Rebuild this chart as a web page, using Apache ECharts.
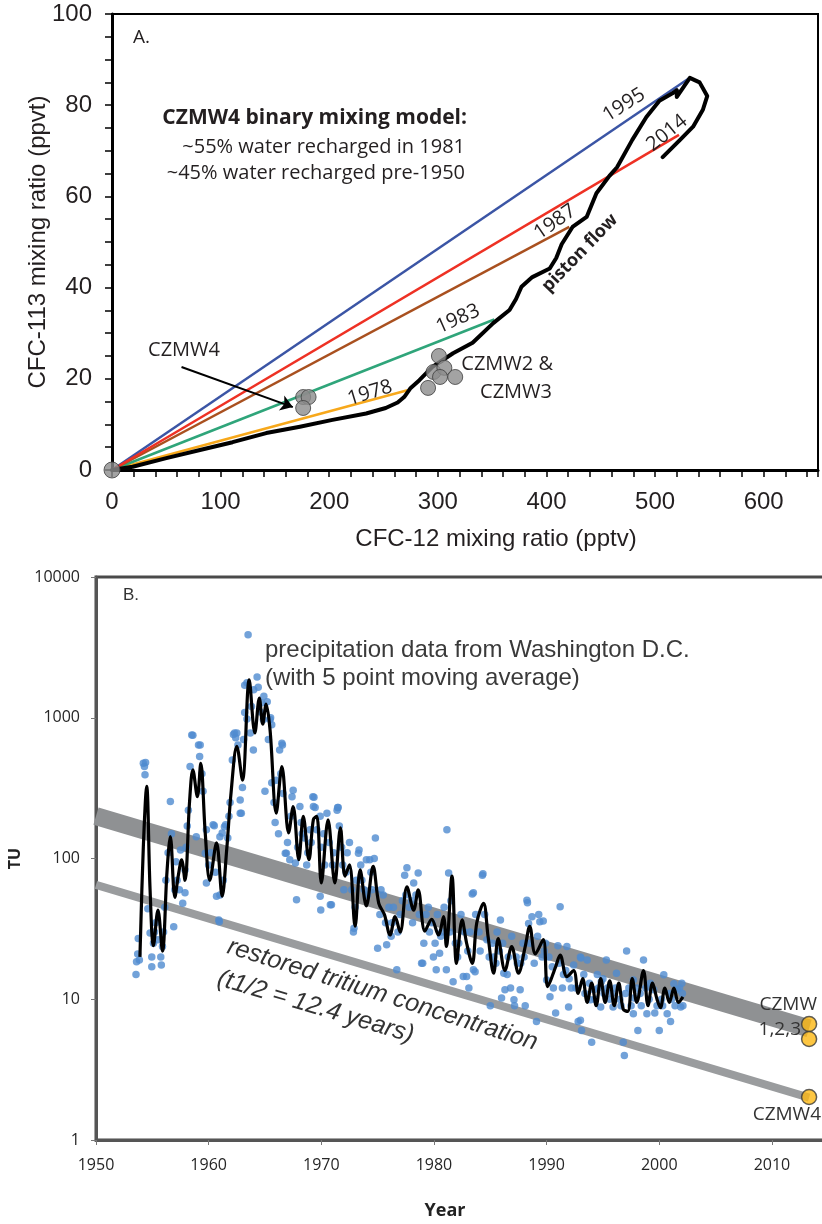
<!DOCTYPE html>
<html>
<head>
<meta charset="utf-8">
<script src="https://cdn.jsdelivr.net/npm/echarts@6/dist/echarts.min.js"></script>
<style>
  html, body { margin: 0; padding: 0; background: #fff; }
  #chart { width: 822px; height: 1224px; }
</style>
</head>
<body>
<div id="chart"></div>
<script>
// ---- panel A: CFC-113 vs CFC-12 ----
const mixYears = ['1978', '1983', '1987', '1995', '2014'];
const mixEndCfc12 = [272, 352, 421, 532, 522];
const mixEndCfc113 = [17.5, 33, 53.3, 86, 73.5];
const mixColors = ['#f7a81b', '#2fa57a', '#a9501f', '#3b55a5', '#ee3124'];

const pistonFlow = [
  [0, 0], [19, 0.7], [50, 2.6], [81, 4.4], [111, 6.1], [142, 8.1], [173, 9.5],
  [203, 11], [234, 12.4], [252, 13.6], [263, 14.8], [269, 16.0], [275, 18.0], [283, 19.7],
  [295, 22.6], [314, 25.6], [332, 27.9], [351, 32.2], [366, 35.1], [372, 37.5], [377, 40.2],
  [387, 42.3], [403, 44.2], [409, 46.5], [414, 49.5], [424, 53.3], [437, 55.5], [446, 60.7],
  [458, 64.5], [465, 66.4], [479, 72.4], [492, 77.4], [504, 81], [516, 82.6],
  [520, 83.3], [520, 81.8], [532, 86], [541, 85], [548, 82], [544, 79],
  [535, 75.3], [523, 72.4], [507, 68.6]
];
const czmw4A = [[176, 16], [181, 16], [176, 13.6]];
const czmw23A = [[301, 25], [296, 21.5], [306, 22.4], [302, 20.4], [316, 20.4], [291, 18]];
const originA = [[0, 0]];
const arrowA = [[64, 22.6], [166.5, 13.8]];

// ---- panel B: tritium in precipitation ----
const decayBand = [[1950, 200], [2013.3, 6.2]];
const restoredLine = [[1950, 65], [2013.3, 2.0]];
const wells123 = [[2013.3, 6.67], [2013.3, 5.22]];
const well4 = [[2013.3, 2.02]];

const movingAvg = [
  [1953.9, 20], [1954.2, 120], [1954.5, 325], [1954.8, 60], [1955.1, 24], [1955.5, 43],
  [1955.9, 22], [1956.3, 80], [1956.6, 143], [1957.0, 53], [1957.3, 75], [1957.6, 98],
  [1957.9, 70], [1958.3, 250], [1958.6, 426], [1959.0, 275], [1959.3, 475], [1959.7, 150],
  [1960.1, 70], [1960.7, 129], [1961.2, 54], [1961.6, 115], [1962.0, 300], [1962.5, 627],
  [1963.0, 361], [1963.6, 1860], [1964.1, 780], [1964.5, 1380], [1964.8, 900], [1965.1, 1250],
  [1965.45, 820], [1966.0, 210], [1966.5, 450], [1967.1, 152], [1967.5, 234], [1968.0, 98],
  [1968.4, 199], [1968.9, 98], [1969.3, 190], [1969.6, 199], [1970.0, 67], [1970.6, 188],
  [1971.2, 67], [1971.7, 165], [1972.1, 75], [1972.5, 90], [1973.0, 33], [1973.45, 83],
  [1974.0, 46], [1974.6, 88], [1975.1, 48], [1975.6, 40], [1976.1, 28.6], [1976.55, 38.6],
  [1977.0, 30], [1977.6, 63], [1978.2, 43], [1978.6, 60], [1979.2, 30.5], [1979.8, 37],
  [1980.4, 28.6], [1980.85, 38.6], [1981.1, 23.7], [1981.6, 75], [1982.0, 18], [1982.5, 36.6],
  [1982.9, 25], [1983.4, 18], [1983.8, 35], [1984.4, 48], [1984.8, 28], [1985.3, 15.3],
  [1985.7, 27], [1986.3, 16], [1986.9, 23.7], [1987.5, 15.3], [1988.1, 23.7], [1988.5, 33],
  [1989.0, 21], [1989.7, 26.5], [1990.1, 12.3], [1990.8, 17], [1991.2, 20.6], [1991.8, 14.5],
  [1992.4, 16], [1992.8, 11], [1993.2, 14], [1993.6, 9.5], [1994.0, 13], [1994.4, 9],
  [1994.8, 14], [1995.2, 9.5], [1995.6, 13.5], [1996.0, 9], [1996.4, 13], [1996.8, 8.5],
  [1997.2, 8.2], [1997.6, 14], [1998.0, 9.5], [1998.6, 16], [1999.0, 9], [1999.4, 13],
  [1999.8, 10], [2000.1, 8.7], [2000.5, 12], [2000.9, 9.5], [2001.3, 12], [2001.7, 9.5],
  [2002.1, 10.4]
];

const precip = [
  [1953.55, 15], [1953.6, 18.5], [1953.75, 27], [1953.7, 21], [1953.85, 19],
  [1954.2, 475], [1954.35, 393], [1954.3, 450], [1954.4, 480],
  [1954.6, 44], [1954.8, 29.6], [1954.95, 20], [1954.95, 17], [1955.1, 25], [1955.3, 35],
  [1955.2, 30], [1955.5, 26.5], [1955.75, 20], [1955.8, 17.5], [1955.9, 23.7], [1956.0, 30],
  [1956.1, 45], [1956.2, 70], [1956.4, 110], [1956.6, 254], [1956.7, 150], [1956.9, 32.8],
  [1957.0, 60], [1957.1, 95], [1957.2, 70], [1957.4, 60], [1957.5, 115], [1957.7, 48],
  [1957.9, 57], [1957.9, 83], [1958.0, 120], [1958.1, 170],
  [1958.2, 220], [1958.35, 450], [1958.5, 755], [1958.6, 750], [1958.9, 143], [1959.1, 640],
  [1959.2, 530], [1959.25, 640], [1959.4, 400], [1959.5, 300], [1959.7, 109], [1959.8, 67],
  [1959.8, 160], [1960.0, 90], [1960.2, 110], [1960.4, 174], [1960.5, 171], [1960.6, 80],
  [1960.7, 54], [1960.9, 36.6], [1960.95, 35.6], [1961.0, 55], [1961.0, 143], [1961.2, 152],
  [1961.4, 168], [1961.5, 174], [1961.3, 70], [1961.7, 140], [1961.8, 200], [1961.9, 250],
  [1962.1, 500], [1962.2, 760], [1962.3, 780], [1962.4, 720], [1962.5, 780], [1962.6, 640],
  [1962.8, 260], [1962.8, 210], [1962.9, 210], [1963.0, 320], [1963.1, 700], [1963.2, 1090],
  [1963.2, 1700], [1963.4, 980], [1963.4, 1770], [1963.5, 3880], [1963.7, 780], [1963.8, 1200],
  [1963.97, 590], [1964.0, 1580], [1964.3, 1950], [1964.4, 1650], [1964.6, 1100], [1964.7, 1280],
  [1964.86, 970], [1964.9, 1420], [1965.0, 300], [1965.2, 1300], [1965.3, 700], [1965.45, 970],
  [1965.5, 1000], [1965.6, 890], [1965.6, 345], [1965.8, 250], [1965.9, 180], [1966.0, 360],
  [1966.2, 150], [1966.3, 590], [1966.4, 400], [1966.5, 660], [1966.55, 640], [1966.6, 290],
  [1966.8, 109], [1966.9, 109], [1967.0, 130], [1967.2, 98], [1967.3, 200], [1967.4, 275],
  [1967.5, 305], [1967.7, 93], [1967.8, 51], [1967.9, 120], [1968.1, 234], [1968.2, 180],
  [1968.3, 150], [1968.5, 140], [1968.7, 90], [1968.8, 110], [1969.0, 160], [1969.1, 130],
  [1969.3, 234], [1969.35, 272], [1969.25, 275], [1969.45, 230], [1969.6, 160], [1969.9, 200],
  [1969.9, 54], [1969.95, 43], [1970.0, 120], [1970.2, 150], [1970.3, 90], [1970.5, 210],
  [1970.7, 130], [1970.8, 47], [1970.9, 47], [1971.0, 90], [1971.1, 110], [1971.4, 220],
  [1971.45, 230], [1971.5, 230], [1971.6, 170], [1971.8, 120], [1971.9, 90], [1972.0, 60],
  [1972.2, 80], [1972.3, 110], [1972.5, 130], [1972.7, 60],
  [1972.85, 30], [1972.9, 32], [1973.0, 45], [1973.1, 70], [1973.3, 109], [1973.35, 115],
  [1973.5, 90], [1973.6, 70], [1973.8, 60], [1974.0, 98], [1974.1, 55], [1974.3, 98],
  [1974.4, 80], [1974.5, 60], [1974.7, 100], [1974.8, 140], [1975.0, 23], [1975.2, 40],
  [1975.3, 60], [1975.5, 55], [1975.7, 35], [1975.8, 24.4], [1976.0, 45], [1976.2, 28],
  [1976.3, 35], [1976.4, 45], [1976.7, 16.2], [1976.8, 30], [1977.0, 40], [1977.2, 50],
  [1977.4, 76], [1977.5, 55], [1977.6, 86], [1977.8, 45], [1978.0, 50], [1978.1, 35],
  [1978.2, 67], [1978.4, 55], [1978.6, 79], [1978.7, 40], [1978.9, 18], [1979.0, 18],
  [1979.1, 25], [1979.3, 40], [1979.5, 45], [1979.6, 30], [1979.8, 35], [1979.95, 20],
  [1980.1, 25], [1980.2, 16.2], [1980.3, 40], [1980.5, 21.2], [1980.6, 28], [1980.7, 30],
  [1980.9, 45], [1981.1, 16.2], [1981.15, 160], [1981.3, 79], [1981.4, 30], [1981.5, 50],
  [1981.7, 13.3], [1981.9, 25], [1982.1, 20], [1982.2, 25], [1982.4, 40], [1982.6, 14.5],
  [1982.7, 30], [1982.9, 14.5], [1983.0, 22], [1983.1, 12.0], [1983.2, 30], [1983.4, 56],
  [1983.5, 57], [1983.5, 16.2], [1983.65, 15.7], [1983.7, 40],
  [1984.0, 30], [1984.1, 22], [1984.3, 76], [1984.35, 78], [1984.5, 40], [1984.7, 26.5],
  [1984.9, 20], [1985.0, 9], [1985.2, 25], [1985.3, 20], [1985.5, 18], [1985.6, 30],
  [1985.8, 22], [1985.9, 36.6], [1986.0, 10.2], [1986.1, 25], [1986.2, 15.3], [1986.3, 11.7],
  [1986.5, 15], [1986.6, 20], [1986.8, 12], [1986.9, 28], [1987.1, 9.9], [1987.15, 9.0],
  [1987.3, 20], [1987.4, 18], [1987.65, 11.7], [1987.7, 18], [1987.9, 25], [1988.0, 20],
  [1988.1, 9.0], [1988.25, 50.6], [1988.3, 48.5], [1988.4, 34.5], [1988.5, 25], [1988.7, 38.6],
  [1988.9, 18], [1989.1, 6.95], [1989.2, 28], [1989.3, 40], [1989.4, 35.6], [1989.6, 20],
  [1989.7, 36], [1989.8, 22], [1989.9, 25], [1990.0, 13.7], [1990.2, 20], [1990.3, 10.4],
  [1990.5, 17], [1990.6, 12], [1990.8, 8.0], [1991.0, 24], [1991.1, 18], [1991.2, 45.5],
  [1991.4, 12], [1991.5, 15], [1991.7, 16], [1991.8, 23.7], [1991.95, 8.8], [1992.0, 14],
  [1992.2, 12], [1992.4, 17.5], [1992.6, 12], [1992.8, 6.95], [1993.0, 20], [1993.05, 19.6],
  [1993.0, 7.1], [1993.1, 6.0], [1993.3, 15], [1993.4, 11], [1993.6, 19], [1993.8, 13],
  [1993.9, 9.9], [1994.0, 4.95], [1994.2, 11.7], [1994.3, 10], [1994.5, 15], [1994.6, 12],
  [1994.8, 8.8], [1994.85, 13.3], [1995.0, 14], [1995.1, 11], [1995.3, 19], [1995.4, 12],
  [1995.6, 10], [1995.8, 11], [1995.9, 8.8], [1996.1, 12], [1996.2, 15.3], [1996.5, 10],
  [1996.6, 9], [1996.8, 4.95], [1996.9, 3.98], [1997.0, 11], [1997.1, 22], [1997.3, 12],
  [1997.5, 9], [1997.7, 13.7], [1997.75, 10.2], [1997.7, 7.9], [1998.0, 12], [1998.1, 6.0],
  [1998.3, 11], [1998.4, 9], [1998.6, 19], [1998.8, 12], [1998.9, 7.9], [1999.1, 10],
  [1999.2, 13], [1999.5, 11.7], [1999.6, 8], [1999.8, 9], [2000.0, 6.0], [2000.2, 10],
  [2000.3, 9], [2000.4, 14.9], [2000.7, 7.9], [2000.9, 11], [2001.0, 6.95], [2001.1, 10],
  [2001.3, 12.9], [2001.4, 9], [2001.6, 11.7], [2001.8, 12], [2001.9, 8.8], [2002.0, 13],
  [2002.05, 11], [2002.1, 9]
];

const chart = echarts.init(document.getElementById('chart'));
const deg = Math.PI / 180;
const serif = '"Liberation Sans", Arial, sans-serif';
const myriad = '"Open Sans", "Noto Sans", sans-serif';

function txt(text, x, y, opt) {
  opt = opt || {};
  return {
    type: 'text', x: x, y: y, rotation: (opt.rot || 0) * deg, z: 100,
    style: {
      text: text, font: opt.font, fill: opt.color || '#231f20',
      textAlign: opt.align || 'left', textVerticalAlign: 'middle',
      align: opt.align || 'left', verticalAlign: 'middle'
    }
  };
}

const mixSeries = mixYears.map((yr, i) => ({
  name: yr, type: 'line', xAxisIndex: 0, yAxisIndex: 0,
  data: [[0, 0], [mixEndCfc12[i], mixEndCfc113[i]]],
  showSymbol: false, lineStyle: { color: mixColors[i], width: 2.5 }, z: 2
}));

const plain = v => String(v);

const option = {
  animation: false,
  backgroundColor: '#fff',
  grid: [
    { left: 112, top: 14, width: 706, height: 456, show: true, borderColor: '#000', borderWidth: 2, outerBoundsMode: 'none' },
    { left: 96, top: 577, right: -4, height: 563, show: true, borderColor: '#4a4a4a', borderWidth: 3, outerBoundsMode: 'none' }
  ],
  xAxis: [
    {
      gridIndex: 0, type: 'value', min: 0, max: 650, interval: 100,
      name: 'CFC-12 mixing ratio (pptv)', nameLocation: 'middle', nameGap: 57,
      nameTextStyle: { fontFamily: serif, fontSize: 24, color: '#231f20', padding: [0, 0, 0, 62] },
      axisLine: { lineStyle: { color: '#000', width: 3 } },
      axisTick: { length: 7, lineStyle: { color: '#000', width: 1.5 } },
      minorTick: { show: true, splitNumber: 5, length: 7, lineStyle: { color: '#000', width: 1.5 } },
      axisLabel: { fontFamily: serif, fontSize: 24, color: '#231f20', margin: 20, showMaxLabel: false },
      splitLine: { show: false }
    },
    {
      gridIndex: 1, type: 'value', min: 1950, max: 2014.8, interval: 10,
      name: 'Year', nameLocation: 'middle', nameGap: 62,
      nameTextStyle: { fontFamily: myriad, fontSize: 18, fontWeight: 'bold', color: '#222', padding: [0, 32, 0, 0] },
      axisLine: { lineStyle: { color: '#555', width: 3 } },
      axisTick: { length: 5, lineStyle: { color: '#777', width: 1 } },
      axisLabel: { fontFamily: myriad, fontSize: 16, color: '#262626', margin: 17, showMaxLabel: false, formatter: plain },
      splitLine: { show: false }
    }
  ],
  yAxis: [
    {
      gridIndex: 0, type: 'value', min: 0, max: 100, interval: 20,
      name: 'CFC-113 mixing ratio (ppvt)', nameLocation: 'middle', nameGap: 62, nameRotate: 90,
      nameMoveOverlap: false,
      nameTextStyle: { fontFamily: serif, fontSize: 24, color: '#231f20' },
      axisLine: { lineStyle: { color: '#000', width: 3 } },
      axisTick: { length: 7, lineStyle: { color: '#000', width: 1.5 } },
      minorTick: { show: true, splitNumber: 4, length: 7, lineStyle: { color: '#000', width: 1.5 } },
      axisLabel: { fontFamily: serif, fontSize: 24, color: '#231f20', margin: 20 },
      splitLine: { show: false }
    },
    {
      gridIndex: 1, type: 'log', logBase: 10, min: 1, max: 10000,
      name: 'TU', nameLocation: 'middle', nameGap: 66, nameRotate: 90,
      nameTextStyle: { fontFamily: myriad, fontSize: 16, fontWeight: 'bold', color: '#222' },
      axisLine: { lineStyle: { color: '#555', width: 3 } },
      axisTick: { length: 5, lineStyle: { color: '#777', width: 1 } },
      axisLabel: { fontFamily: myriad, fontSize: 16, color: '#262626', margin: 16, formatter: plain },
      splitLine: { show: false }
    }
  ],
  series: [
    ...mixSeries,
    {
      name: 'piston flow', type: 'line', xAxisIndex: 0, yAxisIndex: 0, data: pistonFlow,
      showSymbol: false, lineStyle: { color: '#000', width: 4, join: 'round', cap: 'round' }, z: 3
    },
    {
      name: 'arrow', type: 'lines', coordinateSystem: 'cartesian2d', xAxisIndex: 0, yAxisIndex: 0,
      data: [{ coords: arrowA }], symbol: ['none', 'arrow'], symbolSize: 12,
      lineStyle: { color: '#000', width: 2, curveness: 0, opacity: 1 }, z: 4
    },
    {
      name: 'CZMW4', type: 'scatter', xAxisIndex: 0, yAxisIndex: 0, data: czmw4A, symbolSize: 15,
      itemStyle: { color: '#8c8c8c', borderColor: '#3d3d3d', borderWidth: 1 }, z: 5
    },
    {
      name: 'CZMW2 & CZMW3', type: 'scatter', xAxisIndex: 0, yAxisIndex: 0, data: czmw23A, symbolSize: 15,
      itemStyle: { color: '#8c8c8c', borderColor: '#3d3d3d', borderWidth: 1 }, z: 5
    },
    {
      name: 'origin', type: 'scatter', xAxisIndex: 0, yAxisIndex: 0, data: originA, symbolSize: 16,
      itemStyle: { color: '#8c8c8c', borderColor: '#3d3d3d', borderWidth: 1 }, z: 5
    },
    {
      name: 'band', type: 'line', xAxisIndex: 1, yAxisIndex: 1, data: decayBand, showSymbol: false,
      lineStyle: { color: '#8f9193', width: 18, cap: 'butt' }, z: 1
    },
    {
      name: 'restored', type: 'line', xAxisIndex: 1, yAxisIndex: 1, data: restoredLine, showSymbol: false,
      lineStyle: { color: '#9a9c9e', width: 8, cap: 'butt' }, z: 1
    },
    {
      name: 'precipitation', type: 'scatter', xAxisIndex: 1, yAxisIndex: 1, data: precip, symbolSize: 7.5,
      itemStyle: { color: '#4f8bd0' }, z: 2
    },
    {
      name: '5 point moving average', type: 'line', xAxisIndex: 1, yAxisIndex: 1, data: movingAvg,
      showSymbol: false, smooth: 0.35, lineStyle: { color: '#000', width: 3.2 }, z: 3
    },
    {
      name: 'CZMW 1,2,3', type: 'scatter', xAxisIndex: 1, yAxisIndex: 1, data: wells123, symbolSize: 15,
      itemStyle: { color: '#fdb813', borderColor: '#3a3a3a', borderWidth: 1.5 }, z: 5
    },
    {
      name: 'CZMW4 well', type: 'scatter', xAxisIndex: 1, yAxisIndex: 1, data: well4, symbolSize: 15,
      itemStyle: { color: '#fdb813', borderColor: '#3a3a3a', borderWidth: 1.5 }, z: 5
    }
  ],
  graphic: [
    txt('A.', 133, 38, { font: '19px ' + myriad }),
    txt('CZMW4 binary mixing model:', 467, 118, { font: 'bold 21px ' + myriad, align: 'right' }),
    txt('~55% water recharged in 1981', 465, 147, { font: '20px ' + myriad, align: 'right' }),
    txt('~45% water recharged pre-1950', 465, 173, { font: '20px ' + myriad, align: 'right' }),
    txt('1995', 624, 105, { font: '20px ' + myriad, align: 'center', rot: 32 }),
    txt('2014', 667, 133, { font: '20px ' + myriad, align: 'center', rot: 39 }),
    txt('1987', 555, 222, { font: '20px ' + myriad, align: 'center', rot: 35 }),
    txt('1983', 458, 319, { font: '20px ' + myriad, align: 'center', rot: 24 }),
    txt('1978', 370, 393, { font: '20px ' + myriad, align: 'center', rot: 17 }),
    txt('piston flow', 580, 253, { font: 'bold 18px ' + myriad, align: 'center', rot: 46 }),
    txt('CZMW4', 184, 350, { font: '20px ' + myriad, align: 'center' }),
    txt('CZMW2 &', 553, 364, { font: '20px ' + myriad, align: 'right' }),
    txt('CZMW3', 552, 392, { font: '20px ' + myriad, align: 'right' }),

    txt('B.', 123, 595, { font: '17px ' + serif, color: '#333' }),
    txt('precipitation data from Washington D.C.', 265, 650, { font: '24px ' + serif, color: '#3a3a3a' }),
    txt('(with 5 point moving average)', 265, 678, { font: '24px ' + serif, color: '#3a3a3a' }),
    txt('restored tritium concentration', 228, 946, { font: 'italic 25px ' + serif, color: '#333', rot: -17.5 }),
    txt('(t1/2 = 12.4 years)', 218, 978, { font: 'italic 25px ' + serif, color: '#333', rot: -16.5 }),
    txt('CZMW', 817, 1005, { font: '19px ' + myriad, color: '#333', align: 'right' }),
    txt('1,2,3', 801, 1030, { font: '19px ' + myriad, color: '#333', align: 'right' }),
    txt('CZMW4', 821, 1115, { font: '19px ' + myriad, color: '#333', align: 'right' })
  ]
};

chart.setOption(option);
</script>
</body>
</html>
